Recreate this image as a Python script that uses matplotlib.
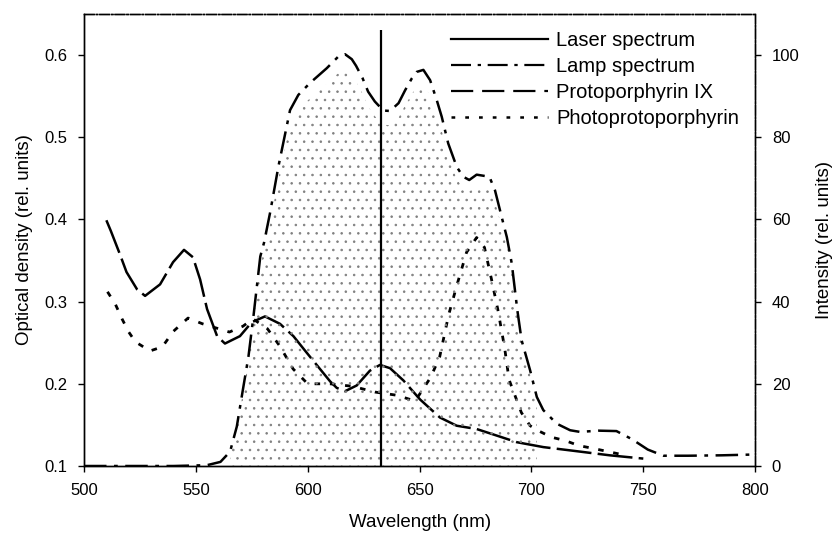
import numpy as np
import matplotlib
matplotlib.use("Agg")
import matplotlib.pyplot as plt
from matplotlib.lines import Line2D

plt.rcParams["font.family"] = ["Liberation Sans", "DejaVu Sans"]
plt.rcParams["hatch.linewidth"] = 0.6
plt.rcParams["hatch.color"] = "0.5"

# =========================
# DATA
# =========================
# Protoporphyrin IX, optical density
ppix_wl = [510, 512, 516, 519, 523.7, 527.3, 534, 539.8, 544.7, 548.7, 551.9, 555,
           559.5, 563, 569.7, 575, 580.9, 587.6, 593.6, 599.5, 605.5, 610, 613,
           616.7, 621.9, 627.8, 632.3, 636.8, 642.8, 650.2, 659.1, 666.6, 675.5,
           684.5, 693.4, 705.3, 717.3, 735, 750]
ppix_od = [0.399, 0.386, 0.358, 0.336, 0.315, 0.307, 0.321, 0.348, 0.363, 0.354,
           0.327, 0.291, 0.258, 0.249, 0.258, 0.275, 0.282, 0.273, 0.258, 0.238,
           0.218, 0.203, 0.195, 0.191, 0.198, 0.216, 0.223, 0.219, 0.204, 0.181,
           0.159, 0.149, 0.145, 0.137, 0.129, 0.123, 0.119, 0.113, 0.109]

# Photoprotoporphyrin, optical density
photo_wl = [510.5, 514, 517, 520, 523, 529.5, 535, 540, 546.5, 553, 565, 571, 575.5,
            582, 587.5, 593.5, 600, 610, 620, 630, 640, 648, 655, 659, 663, 667,
            671, 675.5, 679, 682, 685, 688, 690, 695.5, 699.4, 703, 709, 715, 721,
            730, 742]
photo_od = [0.312, 0.297, 0.279, 0.263, 0.251, 0.24, 0.245, 0.264, 0.28, 0.273,
            0.263, 0.27, 0.279, 0.267, 0.246, 0.218, 0.2, 0.2, 0.197, 0.19, 0.186,
            0.179, 0.208, 0.233, 0.284, 0.323, 0.36, 0.378, 0.366, 0.329, 0.29,
            0.244, 0.205, 0.165, 0.149, 0.143, 0.135, 0.131, 0.125, 0.12, 0.113]

# Lamp spectrum, intensity
lamp_wl = [500, 520, 540, 555, 561, 565.3, 568.3, 571, 573.5, 575.8, 578.8, 580.5,
           583.2, 586.9, 592.1, 595.8, 601, 608.5, 613.6, 616.7, 619.7, 621.6, 624.5,
           627, 630, 633.8, 636.8, 640.6, 643.5, 646.5, 648.7, 651.7, 654.7, 657.7,
           659.9, 662.8, 666.6, 669.5, 672.2, 675.5, 681.2, 683.7, 686.7, 689,
           691.2, 693.7, 695.6, 699.4, 702.4, 705.3, 711.3, 717.3, 721.7, 730, 738,
           745, 752, 759, 770, 785, 800]
lamp_int = [0, 0, 0, 0.2, 1, 3.5, 9.6, 18.5, 26.6, 36.7, 51, 54.4, 61.7, 72.9, 86.6,
            90.3, 93.2, 96.8, 99.6, 100.2, 99, 97.4, 94.4, 91.1, 88.7, 86.5, 86.4,
            88.3, 91.4, 94.3, 95.9, 96.4, 93.9, 89, 85, 78.5, 72.8, 70.4, 69.6, 70.9,
            70.4, 67.1, 60.6, 55.7, 49.3, 37.9, 30.6, 23.3, 16.8, 13.6, 10.3, 8.7,
            8.3, 8.6, 8.5, 6.5, 4, 2.5, 2.5, 2.6, 2.8]

# Laser spectrum (He-Ne line)
laser_wl = 632.8
laser_peak = 106

legend_labels = ["Laser spectrum", "Lamp spectrum", "Protoporphyrin IX",
                 "Photoprotoporphyrin"]

# =========================
# PLOT
# =========================
fig = plt.figure(figsize=(8.4, 5.36), dpi=100)
ax = fig.add_axes([0.100, 0.1306, 0.799, 0.8433])
ax2 = ax.twinx()

# lamp spectrum with stippled area underneath
lamp_wl_a = np.array(lamp_wl)
lamp_int_a = np.array(lamp_int)
mask = (lamp_wl_a >= 565) & (lamp_wl_a <= 705)
ax2.fill_between(lamp_wl_a[mask], 0, lamp_int_a[mask] * 0.96, facecolor="none",
                 edgecolor="0.5", hatch="..", linewidth=0)
ax2.plot(lamp_wl, lamp_int, color="black", lw=1.8, linestyle=(0, (9, 3, 1.5, 3)))
ax2.vlines(laser_wl, 0, laser_peak, color="black", lw=1.6)

ax.plot(ppix_wl, ppix_od, color="black", lw=1.8, linestyle=(0, (14, 2.5)))
ax.plot(photo_wl, photo_od, color="black", lw=2.0, linestyle=(0, (2, 3.5)))

ax.set_xlim(500, 800)
ax.set_ylim(0.1, 0.65)
ax2.set_ylim(0, 110)
ax.set_xticks([500, 550, 600, 650, 700, 750, 800])
ax.set_yticks([0.1, 0.2, 0.3, 0.4, 0.5, 0.6])
ax2.set_yticks([0, 20, 40, 60, 80, 100])

for a in (ax, ax2):
    a.tick_params(direction="out", length=4, width=1, labelsize=12, pad=8)
    for s in a.spines.values():
        s.set_linewidth(1.0)
ax.spines["top"].set_linestyle((0, (7, 1.5, 1, 1.5)))
ax2.spines["top"].set_linestyle((0, (7, 1.5, 1, 1.5)))
ax2.spines["right"].set_linestyle((0, (7, 1.5, 1, 1.5)))

ax.set_xlabel("Wavelength (nm)", fontsize=13.5, labelpad=12)
ax.set_ylabel("Optical density (rel. units)", fontsize=13.5, labelpad=8)
ax2.set_ylabel("Intensity (rel. units)", fontsize=13.5, labelpad=12)

handles = [Line2D([], [], color="black", lw=1.6),
           Line2D([], [], color="black", lw=1.6, linestyle=(0, (9, 3, 1.5, 3))),
           Line2D([], [], color="black", lw=1.6, linestyle=(0, (10, 4))),
           Line2D([], [], color="black", lw=1.8, linestyle=(0, (1.5, 4)))]
ax2.legend(handles, legend_labels, loc="upper right", bbox_to_anchor=(0.997, 0.993),
           frameon=False, fontsize=14.5, handlelength=4.8, handletextpad=0.4,
           labelspacing=0.34, borderpad=0.2)

fig.savefig("out.png", dpi=100)
